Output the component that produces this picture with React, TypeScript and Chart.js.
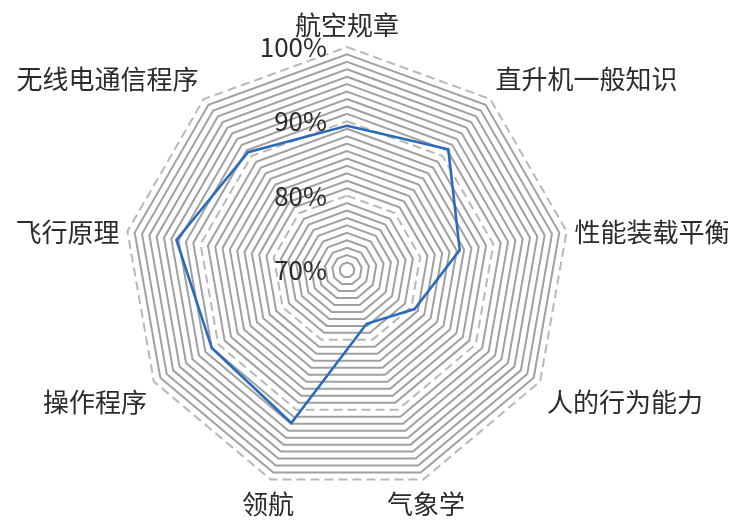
import React, { useEffect, useRef } from "react";
import { Chart, registerables } from "chart.js";

Chart.register(...registerables);

const categories = [
  "航空规章",
  "直升机一般知识",
  "性能装载平衡",
  "人的行为能力",
  "气象学",
  "领航",
  "操作程序",
  "飞行原理",
  "无线电通信程序",
];

const scores = [89.4, 91.2, 85.4, 80.5, 77.7, 91.9, 91.0, 93.3, 90.7];

const tickValues = [70, 80, 90, 100];
const tickLabels = ["70%", "80%", "90%", "100%"];

const FONT = '"Noto Sans CJK SC", "Noto Sans", sans-serif';
const TEXT_COLOR = "#2b2b2b";

const labelsPlugin = {
  id: "customLabels",
  afterDraw(chart: any) {
    const scale = chart.scales.r;
    const ctx = chart.ctx;
    ctx.save();
    ctx.fillStyle = TEXT_COLOR;
    ctx.font = `26px ${FONT}`;
    // tick labels
    ctx.textAlign = "right";
    ctx.textBaseline = "middle";
    tickValues.forEach((v, i) => {
      const d = scale.getDistanceFromCenterForValue(v);
      ctx.fillText(tickLabels[i], scale.xCenter - 20, scale.yCenter - d);
    });
    // point labels
    const labels: string[] = chart.data.labels;
    const size = 26;
    labels.forEach((lab, i) => {
      const angle = scale.getIndexAngle(i);
      const p = scale.getPointPosition(i, scale.drawingArea + 8);
      const s = Math.sin(angle);
      const c = Math.cos(angle);
      let align: CanvasTextAlign = "center";
      if (s > 0.5) align = "left";
      else if (s < -0.5) align = "right";
      let y = p.y;
      if (c > 0.5) y = p.y - size / 2 - 1;
      else if (c < -0.49) y = p.y + size / 2 + 4;
      else y = p.y + 2;
      ctx.textAlign = align;
      ctx.textBaseline = "middle";
      ctx.fillText(lab, p.x, y);
    });
    ctx.restore();
  },
};

export default function App() {
  const ref = useRef<HTMLCanvasElement | null>(null);
  useEffect(() => {
    if (!ref.current) return;
    const chart = new Chart(ref.current, {
      type: "radar",
      data: {
        labels: categories,
        datasets: [
          {
            data: scores,
            borderColor: "#2a6bbb",
            borderWidth: 2.6,
            fill: false,
            pointRadius: 0,
            pointHoverRadius: 0,
            tension: 0,
            borderJoinStyle: "miter",
          },
        ],
      },
      options: {
        animation: false,
        responsive: true,
        maintainAspectRatio: false,
        layout: { padding: { left: 116, right: 158, top: 39, bottom: 28 } },
        plugins: {
          legend: { display: false },
          tooltip: { enabled: false },
        },
        scales: {
          r: {
            min: 70,
            max: 100,
            ticks: { display: false, stepSize: 1, maxTicksLimit: 100 },
            pointLabels: { display: false },
            angleLines: { display: false },
            grid: {
              lineWidth: 2,
              color: (c: any) =>
                c.tick && c.tick.value % 10 === 0 ? "#b8b8b8" : "#a0a0a0",
            },
            border: {
              dash: (c: any) =>
                c.tick && c.tick.value % 10 === 0 ? [9, 5] : [],
            },
          },
        },
      },
      plugins: [labelsPlugin],
    } as any);
    return () => chart.destroy();
  }, []);
  return (
    <div style={{ position: "absolute", left: 8, top: 8, width: 720, height: 513 }}>
      <canvas ref={ref} />
    </div>
  );
}
